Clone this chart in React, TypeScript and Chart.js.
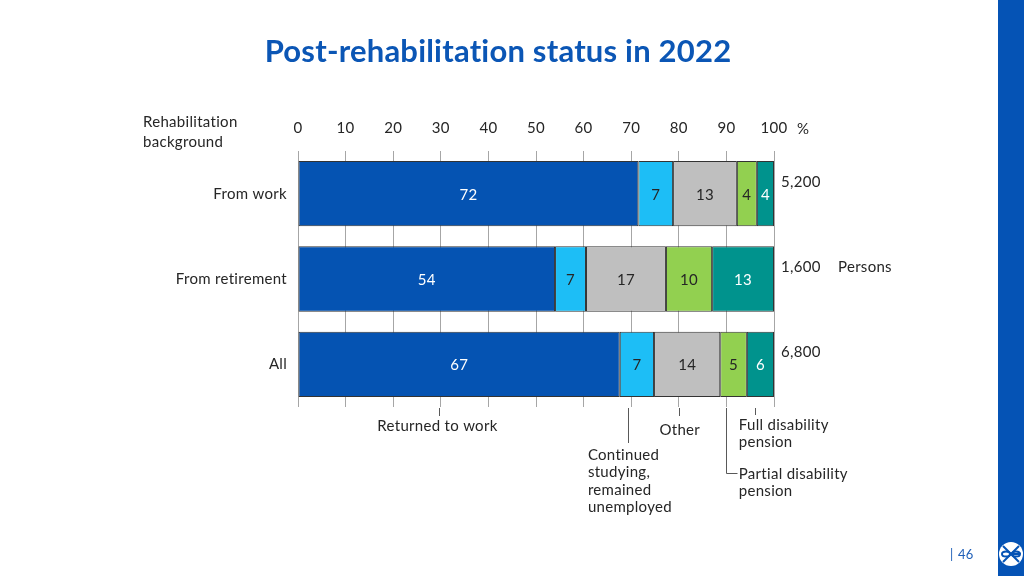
import React, { useEffect, useRef } from "react";
import { Chart, registerables } from "chart.js";

Chart.register(...registerables);

// ---- Data ----
const categories = ["From work", "From retirement", "All"];
const seriesNames = [
  "Returned to work",
  "Continued studying, remained unemployed",
  "Other",
  "Partial disability pension",
  "Full disability pension",
];
// bar widths (percent)
const returnedToWork = [71.5, 54.0, 67.6];
const continuedStudying = [7.3, 6.5, 7.2];
const other = [13.4, 16.8, 13.9];
const partialDisability = [4.2, 9.7, 5.6];
const fullDisability = [3.6, 13.0, 5.7];
// printed labels
const returnedLabels = [72, 54, 67];
const studyingLabels = [7, 7, 7];
const otherLabels = [13, 17, 14];
const partialLabels = [4, 10, 5];
const fullLabels = [4, 13, 6];
const personCounts = [5200, 1600, 6800];
const xTickValues = [0, 10, 20, 30, 40, 50, 60, 70, 80, 90, 100];

const seriesValues = [returnedToWork, continuedStudying, other, partialDisability, fullDisability];
const seriesLabels = [returnedLabels, studyingLabels, otherLabels, partialLabels, fullLabels];

// ---- Styles ----
const FONT = "Lato, 'Open Sans', sans-serif";
const TEXT = "#262626";
const colors = ["#0553B2", "#1DBEF6", "#BFBFBF", "#92D050", "#00938D"];
const labelColors = ["#FFFFFF", TEXT, TEXT, TEXT, "#FFFFFF"];

// annotation anchors (x in axis %, y offsets in px from chart bottom)
const annotations = [
  { series: 0, x: 29.6, lineEnd: 9, text: ["Returned to work"], align: "center", tx: 29.3, ty: 19 },
  { series: 1, x: 69.3, lineEnd: 36, text: ["Continued", "studying,", "remained", "unemployed"], align: "left", tx: 60.9, ty: 48 },
  { series: 2, x: 80.0, lineEnd: 9, text: ["Other"], align: "center", tx: 80.2, ty: 23 },
  { series: 4, x: 96.0, lineEnd: 8, text: ["Full disability", "pension"], align: "left", tx: 92.6, ty: 18 },
];

const spacingPlugin = {
  id: "spacing",
  beforeDraw(chart: any) {
    try {
      (chart.ctx as any).letterSpacing = "0.3px";
    } catch (e) {}
  },
};

const overlayPlugin = {
  id: "overlay",
  afterDatasetsDraw(chart: any) {
    const ctx = chart.ctx;
    ctx.save();
    ctx.font = `15px ${FONT}`;
    ctx.textAlign = "center";
    ctx.textBaseline = "middle";
    chart.data.datasets.forEach((ds: any, di: number) => {
      const meta = chart.getDatasetMeta(di);
      meta.data.forEach((el: any, i: number) => {
        const cx = (el.x + el.base) / 2;
        ctx.fillStyle = labelColors[di];
        ctx.fillText(String(seriesLabels[di][i]), cx, el.y + 1);
      });
    });
    ctx.restore();
  },
  afterDraw(chart: any) {
    const ctx = chart.ctx;
    const xs = chart.scales.x;
    const area = chart.chartArea;
    ctx.save();
    try {
      (ctx as any).letterSpacing = "0.2px";
    } catch (e) {}

    // title
    ctx.font = `bold 31px ${FONT}`;
    ctx.fillStyle = "#0B56B5";
    ctx.textAlign = "center";
    ctx.textBaseline = "middle";
    ctx.fillText("Post-rehabilitation status in 2022", 498, 52);

    try {
      (ctx as any).letterSpacing = "0.3px";
    } catch (e) {}
    // axis header
    ctx.font = `15px ${FONT}`;
    ctx.fillStyle = TEXT;
    ctx.textAlign = "left";
    ctx.fillText("Rehabilitation", 143, 122);
    ctx.fillText("background", 143, 142);
    ctx.fillText("%", xs.right + 23, 129);

    // person counts
    const meta = chart.getDatasetMeta(0);
    meta.data.forEach((el: any, i: number) => {
      ctx.fillText(personCounts[i].toLocaleString("en-US"), area.right + 7, el.y - 12);
      if (i === 1) ctx.fillText("Persons", area.right + 64, el.y - 12);
    });

    // annotations
    ctx.strokeStyle = "#595959";
    ctx.lineWidth = 1;
    const b = area.bottom;
    annotations.forEach((a) => {
      const px = Math.round(xs.getPixelForValue(a.x)) + 0.5;
      ctx.beginPath();
      ctx.moveTo(px, b + 1);
      ctx.lineTo(px, b + a.lineEnd);
      ctx.stroke();
      ctx.textAlign = a.align as CanvasTextAlign;
      const tx = xs.getPixelForValue(a.tx);
      a.text.forEach((t, k) => ctx.fillText(t, tx, b + a.ty + k * 17.5));
    });
    // partial disability pension (elbow connector)
    const pp = Math.round(xs.getPixelForValue(89.9)) + 0.5;
    ctx.beginPath();
    ctx.moveTo(pp, b + 1);
    ctx.lineTo(pp, b + 66.5);
    ctx.lineTo(pp + 11, b + 66.5);
    ctx.stroke();
    ctx.textAlign = "left";
    const ptx = xs.getPixelForValue(92.6);
    ctx.fillText("Partial disability", ptx, b + 67);
    ctx.fillText("pension", ptx, b + 84.5);

    // right stripe
    ctx.fillStyle = "#0553B5";
    ctx.fillRect(998, 0, 26, 576);
    // logo
    ctx.fillStyle = "#FFFFFF";
    ctx.beginPath();
    ctx.arc(1011, 554, 12, 0, Math.PI * 2);
    ctx.fill();
    ctx.strokeStyle = "#0553B5";
    ctx.lineWidth = 2;
    ctx.beginPath();
    ctx.moveTo(1003, 546);
    ctx.lineTo(1019, 562);
    ctx.moveTo(1019, 546);
    ctx.lineTo(1003, 562);
    ctx.stroke();
    ctx.beginPath();
    ctx.ellipse(1006, 554, 4, 2.5, 0, 0, Math.PI * 2);
    ctx.ellipse(1016, 554, 4, 2.5, 0, 0, Math.PI * 2);
    ctx.stroke();

    // page number
    ctx.font = `13px ${FONT}`;
    ctx.fillStyle = "#1F5FB8";
    ctx.textAlign = "left";
    ctx.fillText("|", 950, 555);
    ctx.fillText("46", 958, 555);
    ctx.restore();
  },
};

export default function App() {
  const ref = useRef<HTMLCanvasElement>(null);
  useEffect(() => {
    const canvas = ref.current;
    if (!canvas) return;
    const chart = new Chart(canvas, {
      type: "bar",
      data: {
        labels: categories,
        datasets: seriesValues.map((vals, i) => ({
          label: seriesNames[i],
          data: vals,
          backgroundColor: colors[i],
          borderColor: "#333333",
          borderWidth: 1,
          borderSkipped: false,
          barPercentage: 0.765,
          categoryPercentage: 1,
        })),
      },
      options: {
        responsive: false,
        animation: false,
        indexAxis: "y",
        layout: { padding: { left: 138, right: 250, top: 111, bottom: 169 } },
        plugins: {
          legend: { display: false },
          tooltip: { enabled: false },
          title: { display: false },
        },
        scales: {
          x: {
            position: "top",
            stacked: true,
            min: 0,
            max: 100,
            afterBuildTicks: (s: any) => {
              s.ticks = xTickValues.map((v) => ({ value: v }));
            },
            afterFit: (s: any) => {
              s.height = 40;
            },
            ticks: {
              padding: 14,
              color: TEXT,
              font: { family: FONT, size: 15 },
              maxRotation: 0,
            },
            grid: { drawTicks: false, color: "#A6A6A6", lineWidth: 1 },
            border: { display: false },
          },
          y: {
            stacked: true,
            afterFit: (s: any) => {
              s.width = 160;
            },
            ticks: {
              padding: 11,
              color: TEXT,
              font: { family: FONT, size: 15 },
            },
            grid: { display: false, drawTicks: false },
            border: { display: false },
          },
        },
      } as any,
      plugins: [spacingPlugin, overlayPlugin],
    });
    return () => chart.destroy();
  }, []);
  return (
    <div style={{ position: "absolute", left: 0, top: 0, width: 1024, height: 576, background: "#fff" }}>
      <canvas ref={ref} width={1024} height={576} style={{ display: "block" }} />
    </div>
  );
}
